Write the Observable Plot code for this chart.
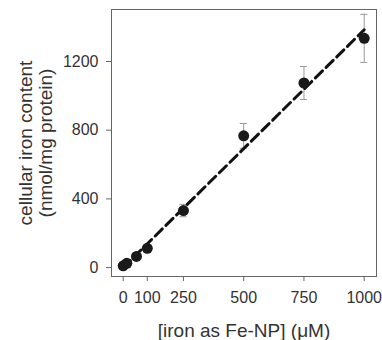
<!DOCTYPE html>
<html><head><meta charset="utf-8">
<script src="https://cdn.jsdelivr.net/npm/d3@7"></script>
<script src="https://cdn.jsdelivr.net/npm/@observablehq/plot@0.6"></script>
<style>body{margin:0;background:#fff}</style>
</head><body><div id="chart"></div>
<script>
const ironConc = [0, 15, 55, 100, 250, 500, 750, 1000];
const ironContent = [10, 25, 65, 112, 332, 767, 1075, 1335];
const ironError = [4, 5, 8, 10, 36, 72, 96, 140];
const fitX = [0, 1000];
const fitY = [0, 1385];
const xTicks = [0, 100, 250, 500, 750, 1000];
const yTicks = [0, 400, 800, 1200];
const xLabel = "[iron as Fe-NP] (μM)";
const yLabel = "cellular iron content\n(nmol/mg protein)";

const data = ironConc.map((x, i) => ({x, y: ironContent[i], lo: ironContent[i] - ironError[i], hi: ironContent[i] + ironError[i]}));
const fit = fitX.map((x, i) => ({x, y: fitY[i]}));

const chart = Plot.plot({
  width: 382,
  height: 340,
  marginLeft: 111,
  marginRight: 6,
  marginTop: 9,
  marginBottom: 64,
  style: {fontFamily: "'Liberation Sans', Arial, sans-serif", fontSize: "16px", color: "#333", background: "#fff"},
  x: {domain: [-48.5, 1051]},
  y: {domain: [-52, 1503]},
  marks: [
    Plot.frame({stroke: "#666"}),
    Plot.axisX({ticks: xTicks, tickFormat: d => String(d), tickSize: 5, tickPadding: 10, label: null, stroke: "#666", fill: "#333", fontSize: 16}),
    Plot.axisY({ticks: yTicks, tickFormat: d => String(d), tickSize: 5, tickPadding: 8, label: null, stroke: "#666", fill: "#333", fontSize: 16}),
    Plot.ruleX(data, {x: "x", y1: "lo", y2: "hi", stroke: "#999", strokeWidth: 1}),
    Plot.ruleY(data, {y: "hi", x1: "x", x2: "x", insetLeft: -3.5, insetRight: -3.5, stroke: "#999", strokeWidth: 1}),
    Plot.ruleY(data, {y: "lo", x1: "x", x2: "x", insetLeft: -3.5, insetRight: -3.5, stroke: "#999", strokeWidth: 1}),
    Plot.line(fit, {x: "x", y: "y", stroke: "#111", strokeWidth: 3, strokeDasharray: "10,5"}),
    Plot.dot(data, {x: "x", y: "y", r: 5.5, fill: "#1a1a1a", stroke: "none"}),
    Plot.text([xLabel], {frameAnchor: "bottom", dy: 54.4, textAnchor: "middle", lineAnchor: "middle", fontSize: 19, fill: "#333", text: d => d}),
    Plot.text([yLabel], {frameAnchor: "left", dx: -76, rotate: -90, textAnchor: "middle", lineAnchor: "middle", lineHeight: 1.05, fontSize: 19, fill: "#333", text: d => d})
  ]
});
document.getElementById("chart").append(chart);
</script>
</body></html>
